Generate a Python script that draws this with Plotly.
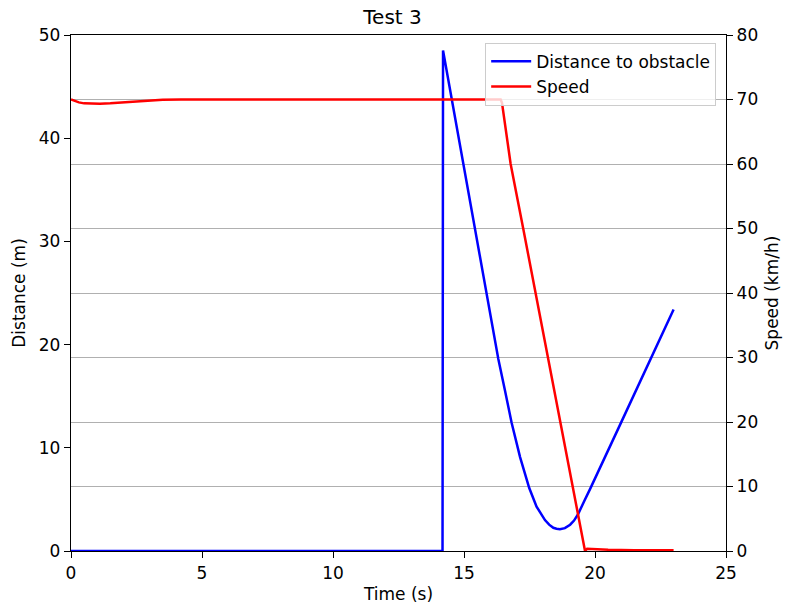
import plotly.graph_objects as go

# Distance to obstacle (m) over time (s)
dist_time = [0, 14.18, 14.2, 15.87, 16.12, 16.31, 16.56, 16.82, 17.14, 17.49,
             17.77, 18.09, 18.25, 18.41, 18.53, 18.66, 18.85, 19.05, 19.2, 19.36,
             19.6, 19.81, 20.95, 21.72, 22.4, 23.0]
dist_vals = [0, 0, 48.5, 25.0, 21.5, 18.6, 15.6, 12.4, 9.1, 6.1,
             4.3, 3.0, 2.55, 2.25, 2.15, 2.1, 2.22, 2.55, 2.95, 3.6,
             4.9, 6.0, 12.2, 16.4, 20.0, 23.4]

# Vehicle speed (km/h) over time (s)
speed_time = [0, 0.15, 0.3, 0.5, 0.8, 1.1, 1.5, 2.0, 2.5, 3.0, 3.5, 4.2, 16.4,
              16.45, 16.55, 16.78, 17.26, 17.73, 18.22, 18.68, 19.15, 19.62,
              19.7, 19.9, 20.5, 21.5, 23.0]
speed_vals = [70.0, 69.75, 69.55, 69.4, 69.33, 69.33, 69.4, 69.55, 69.72, 69.85, 69.95, 70.0, 70.0,
              69.5, 66.5, 60.0, 50.0, 40.0, 30.0, 20.0, 10.0, 0.0,
              0.35, 0.3, 0.2, 0.12, 0.1]

x_ticks = [0, 5, 10, 15, 20, 25]
dist_ticks = [0, 10, 20, 30, 40, 50]
speed_ticks = [0, 10, 20, 30, 40, 50, 60, 70, 80]

font = dict(family="DejaVu Sans", size=17, color="black")

fig = go.Figure()
fig.add_trace(go.Scatter(x=dist_time, y=dist_vals, mode="lines",
                         name="Distance to obstacle",
                         line=dict(color="blue", width=2.5), yaxis="y"))
fig.add_trace(go.Scatter(x=speed_time, y=speed_vals, mode="lines",
                         name="Speed",
                         line=dict(color="red", width=2.5), yaxis="y2"))

axis_common = dict(showline=True, linecolor="black", linewidth=1.4,
                   ticks="outside", ticklen=6, tickwidth=1.4, tickcolor="black",
                   zeroline=False, tickfont=font, automargin=False)

fig.update_layout(
    width=785, height=608,
    margin=dict(l=71, r=59, t=35, b=57),
    plot_bgcolor="white", paper_bgcolor="white",
    font=font,
    title=dict(text="Test 3", x=0.5, xanchor="center", y=0.972, yanchor="middle",
               font=dict(family="DejaVu Sans", size=20, color="black"),
               automargin=False),
    xaxis=dict(range=[0, 25], tickvals=x_ticks, showgrid=False, mirror=True,
               title=dict(text="Time (s)", standoff=6, font=font), **axis_common),
    yaxis=dict(range=[0, 50], tickvals=dist_ticks, showgrid=False,
               title=dict(text="Distance (m)", standoff=8, font=font), **axis_common),
    yaxis2=dict(range=[0, 80], tickvals=speed_ticks, overlaying="y", side="right",
                showgrid=True, gridcolor="#b0b0b0", gridwidth=1.4,
                title=dict(text="Speed (km/h)", standoff=8, font=font), **axis_common),
    legend=dict(x=0.985, y=0.985, xanchor="right", yanchor="top",
                bgcolor="rgba(255,255,255,0.8)", bordercolor="#cccccc", borderwidth=1,
                font=font, itemwidth=40, tracegroupgap=0),
    showlegend=True,
)

fig.write_html("out.html")
